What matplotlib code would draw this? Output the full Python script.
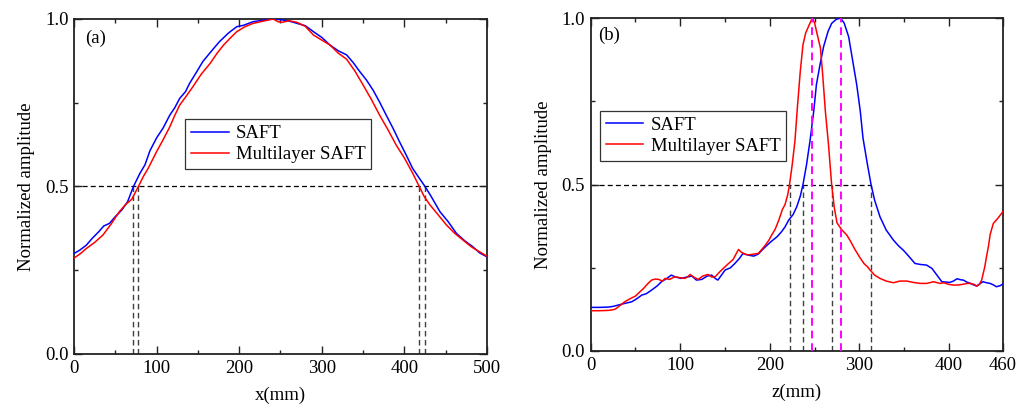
import numpy as np
import matplotlib
matplotlib.use("Agg")
import matplotlib.pyplot as plt

plt.rcParams['font.family'] = ['Liberation Serif', 'DejaVu Serif']
plt.rcParams['font.size'] = 13.5

# ---- (a) lateral profile ----
saft_x_a = [0, 7, 15, 22, 30, 36, 43, 50, 58, 65, 72, 80, 86, 92, 100, 108, 116, 122,
            128, 135, 140, 148, 156, 165, 176, 187, 197, 205, 217, 228, 241, 250, 260,
            270, 280, 290, 300, 310, 320, 330, 338, 346, 354, 362, 370, 378, 386, 394,
            402, 410, 418, 425, 432, 443, 453, 463, 473, 483, 491, 500]
saft_v_a = [0.300, 0.310, 0.325, 0.345, 0.365, 0.382, 0.390, 0.410, 0.430, 0.455, 0.500,
            0.540, 0.565, 0.607, 0.645, 0.675, 0.713, 0.735, 0.763, 0.783, 0.808, 0.840,
            0.873, 0.900, 0.932, 0.958, 0.977, 0.981, 0.992, 0.996, 1.000, 0.998, 0.994,
            0.987, 0.980, 0.962, 0.945, 0.922, 0.905, 0.893, 0.870, 0.843, 0.818, 0.788,
            0.752, 0.713, 0.675, 0.634, 0.595, 0.554, 0.525, 0.500, 0.472, 0.425, 0.395,
            0.360, 0.338, 0.320, 0.302, 0.290]

multi_x_a = [0, 8, 15, 25, 35, 45, 55, 62, 70, 78, 84, 90, 100, 108, 116, 122, 128, 136,
             144, 154, 165, 173, 181, 190, 197, 207, 217, 228, 241, 247, 252, 260, 270,
             280, 290, 300, 310, 320, 330, 340, 350, 360, 370, 380, 390, 400, 410, 418,
             424, 431, 441, 451, 461, 471, 481, 491, 500]
multi_v_a = [0.286, 0.300, 0.315, 0.333, 0.355, 0.388, 0.425, 0.445, 0.462, 0.500, 0.530,
             0.555, 0.604, 0.640, 0.678, 0.712, 0.743, 0.770, 0.798, 0.835, 0.868, 0.897,
             0.922, 0.945, 0.962, 0.977, 0.987, 0.993, 1.000, 0.992, 0.990, 0.995, 0.990,
             0.978, 0.952, 0.937, 0.922, 0.898, 0.880, 0.845, 0.803, 0.760, 0.713, 0.670,
             0.624, 0.585, 0.540, 0.500, 0.470, 0.445, 0.415, 0.385, 0.360, 0.340, 0.320,
             0.305, 0.292]

# half-maximum crossings (a)
fwhm_x_a = [72, 78, 418, 425]

# ---- (b) axial profile ----
saft_z_b = [0, 10, 20, 25, 35, 46, 52, 57, 62, 68, 74, 79, 85, 90, 95, 101, 107, 113, 118,
            124, 130, 135, 139, 142, 146, 150, 156, 161, 166, 170, 173, 176, 182, 187, 192,
            197, 202, 208, 213, 217, 221, 226, 230, 234, 237, 241, 245, 249, 252, 256, 260,
            265, 269, 274, 279, 283, 288, 292, 297, 301, 304, 309, 313, 317, 323, 330, 338,
            344, 349, 355, 362, 368, 375, 381, 386, 392, 397, 401, 405, 409, 413, 416, 420,
            424, 428, 431, 435, 438, 442, 446, 450, 453, 457, 460]
saft_v_b = [0.131, 0.131, 0.132, 0.134, 0.141, 0.148, 0.158, 0.168, 0.172, 0.183, 0.195,
            0.208, 0.218, 0.228, 0.222, 0.218, 0.222, 0.225, 0.213, 0.215, 0.225, 0.228,
            0.218, 0.213, 0.228, 0.243, 0.250, 0.263, 0.278, 0.293, 0.290, 0.288, 0.285,
            0.291, 0.305, 0.318, 0.330, 0.343, 0.358, 0.373, 0.393, 0.410, 0.433, 0.465,
            0.500, 0.560, 0.634, 0.720, 0.800, 0.860, 0.914, 0.960, 0.984, 0.996, 1.000,
            0.985, 0.944, 0.880, 0.800, 0.720, 0.640, 0.560, 0.500, 0.453, 0.403, 0.363,
            0.333, 0.315, 0.303, 0.285, 0.263, 0.260, 0.258, 0.248, 0.230, 0.208, 0.207,
            0.206, 0.210, 0.217, 0.214, 0.213, 0.207, 0.203, 0.198, 0.195, 0.203, 0.208,
            0.205, 0.203, 0.198, 0.193, 0.196, 0.201]

multi_z_b = [0, 10, 20, 27, 33, 38, 44, 50, 55, 59, 64, 68, 72, 76, 80, 83, 88, 94, 100,
             105, 108, 111, 115, 120, 125, 131, 135, 139, 142, 146, 150, 154, 159, 163, 165,
             168, 172, 176, 180, 184, 187, 191, 195, 199, 202, 206, 210, 214, 217, 220, 222,
             225, 228, 231, 234, 237, 240, 244, 247.5, 250, 253, 256.5, 259, 262, 265.5,
             269, 272, 275, 280, 286, 290, 295, 300, 305, 309, 312, 317, 323, 330, 338, 345,
             353, 360, 368, 375, 383, 390, 394, 400, 405, 409, 415, 420, 424, 428, 431, 434,
             436.5, 438, 440, 442, 444, 446, 449.5, 455, 460]
multi_v_b = [0.121, 0.121, 0.122, 0.125, 0.137, 0.148, 0.157, 0.165, 0.178, 0.188, 0.203,
             0.213, 0.216, 0.215, 0.210, 0.218, 0.215, 0.223, 0.220, 0.218, 0.222, 0.230,
             0.222, 0.215, 0.225, 0.230, 0.222, 0.223, 0.232, 0.243, 0.253, 0.263, 0.275,
             0.295, 0.305, 0.297, 0.291, 0.289, 0.290, 0.292, 0.293, 0.305, 0.318, 0.333,
             0.348, 0.366, 0.393, 0.425, 0.440, 0.470, 0.500, 0.560, 0.630, 0.740, 0.840,
             0.920, 0.955, 0.980, 1.000, 0.985, 0.950, 0.910, 0.830, 0.720, 0.620, 0.500,
             0.430, 0.385, 0.365, 0.348, 0.330, 0.305, 0.283, 0.263, 0.253, 0.243, 0.228,
             0.218, 0.210, 0.205, 0.210, 0.210, 0.206, 0.203, 0.203, 0.208, 0.203, 0.205,
             0.200, 0.198, 0.198, 0.200, 0.203, 0.203, 0.200, 0.195, 0.200, 0.213, 0.230,
             0.253, 0.285, 0.313, 0.350, 0.383, 0.400, 0.418]

# half-maximum crossings and peak positions (b)
fwhm_z_b = [222, 237, 269, 313]
peak_z_b = [247.5, 279]

BLUE = '#0000ff'
RED = '#ff0000'
DASH_GRAY = '#404040'


def style_axes(ax, xmax, xticks, xminor):
    ax.set_xlim(0, xmax)
    ax.set_ylim(0, 1.0)
    ax.set_xticks(xticks)
    ax.set_xticks(xminor, minor=True)
    ax.set_yticks([0.0, 0.5, 1.0])
    ax.set_yticks([0.25, 0.75], minor=True)
    ax.yaxis.set_major_formatter(matplotlib.ticker.FormatStrFormatter('%.1f'))
    ax.tick_params(which='both', direction='in', top=True, right=True,
                   width=1.0, colors='#222222', labelcolor='black')
    ax.tick_params(which='major', length=6, labelsize=13.5, pad=4)
    ax.tick_params(which='minor', length=3)
    for s in ax.spines.values():
        s.set_linewidth(1.3)
        s.set_color('#222222')
    ax.set_ylabel('Normalized amplitude', fontsize=13.5, labelpad=7)


fig = plt.figure(figsize=(10.19, 4.11), dpi=100)
ax1 = fig.add_axes([0.0726, 0.1387, 0.4053, 0.8151])
ax2 = fig.add_axes([0.5797, 0.1460, 0.4043, 0.8100])

leg_kw = dict(loc='upper left', fontsize=13.5, frameon=True, fancybox=False,
              edgecolor='#333333', framealpha=1, handlelength=2.0, borderpad=0.3,
              labelspacing=0.2, handletextpad=0.4, borderaxespad=0)

# (a)
ax1.axhline(0.5, color='black', ls=(0, (4, 2.5)), lw=0.9, zorder=1)
for xv in fwhm_x_a:
    ax1.plot([xv, xv], [0, 0.5], color=DASH_GRAY, ls=(0, (4, 2.5)), lw=1.0, zorder=1)
ax1.plot(saft_x_a, saft_v_a, color=BLUE, lw=1.1, label='SAFT', zorder=3)
ax1.plot(multi_x_a, multi_v_a, color=RED, lw=1.1, label='Multilayer SAFT', zorder=3)
style_axes(ax1, 500, [0, 100, 200, 300, 400, 500], [50, 150, 250, 350, 450])
ax1.set_xlabel('x(mm)', fontsize=13.5, labelpad=7)
ax1.text(0.027, 0.943, '(a)', transform=ax1.transAxes, fontsize=13.5, va='center')
leg1 = ax1.legend(bbox_to_anchor=(0.27, 0.70), **leg_kw)
leg1.get_frame().set_linewidth(0.9)

# (b)
ax2.plot([0, fwhm_z_b[-1]], [0.5, 0.5], color='black', ls=(0, (4, 2.5)), lw=0.9, zorder=1)
for zv in fwhm_z_b:
    ax2.plot([zv, zv], [0, 0.5], color=DASH_GRAY, ls=(0, (4, 2.5)), lw=1.0, zorder=1)
ax2.plot(saft_z_b, saft_v_b, color=BLUE, lw=1.1, label='SAFT', zorder=3)
ax2.plot(multi_z_b, multi_v_b, color=RED, lw=1.1, label='Multilayer SAFT', zorder=3)
for zv in peak_z_b:
    ax2.plot([zv, zv], [0, 1.0], color='#ff00ff', ls=(0, (4, 2.5)), lw=1.4, zorder=4)
style_axes(ax2, 460, [0, 100, 200, 300, 400, 460], [50, 150, 250, 350])
ax2.set_xlabel('z(mm)', fontsize=13.5, labelpad=7)
ax2.text(0.018, 0.949, '(b)', transform=ax2.transAxes, fontsize=13.5, va='center')
leg2 = ax2.legend(bbox_to_anchor=(0.023, 0.72), **leg_kw)
leg2.get_frame().set_linewidth(0.9)

fig.savefig('out.png', dpi=100)
